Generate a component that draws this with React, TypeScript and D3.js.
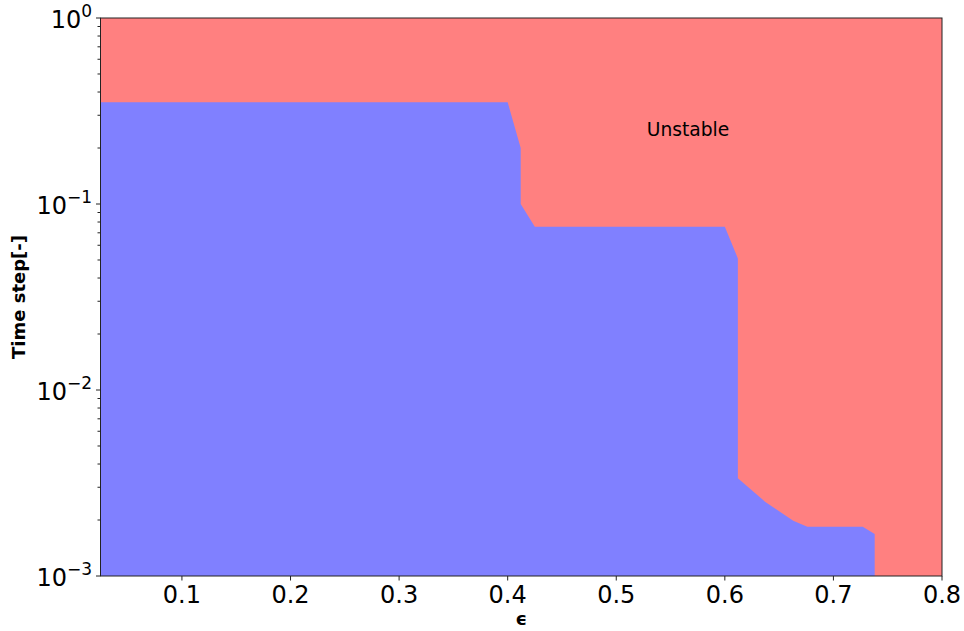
import React from "react";
import * as d3 from "d3";

// Stability boundary: largest stable time step for each epsilon (traced left to right)
const boundaryEps = [0.025, 0.4, 0.412, 0.412, 0.425, 0.6, 0.612, 0.612, 0.637, 0.663, 0.676, 0.727, 0.738, 0.738];
const boundaryDt = [0.352, 0.352, 0.2, 0.1, 0.0755, 0.0755, 0.051, 0.00335, 0.00251, 0.00198, 0.00184, 0.00184, 0.00168, 0.001];

const xTicks = [0.1, 0.2, 0.3, 0.4, 0.5, 0.6, 0.7, 0.8];
const yMajorExps = [0, -1, -2, -3];

const W = 964;
const H = 631;
const M = { left: 100.5, right: 942, top: 18, bottom: 576 };
const FONT = "DejaVu Sans, sans-serif";

export default function App() {
  const x = d3.scaleLinear().domain([0.025, 0.8]).range([M.left, M.right]);
  const y = d3.scaleLog().domain([0.001, 1]).range([M.bottom, M.top]);

  const pts: [number, number][] = boundaryEps.map((e, i) => [e, boundaryDt[i]]);
  pts.push([0.025, 0.001]);
  const area = d3
    .line<[number, number]>()
    .x((d) => x(d[0]))
    .y((d) => y(d[1]))
    .curve(d3.curveLinearClosed)(pts) as string;

  const minors: number[] = [];
  for (let e = -3; e < 0; e++) {
    for (let k = 2; k <= 9; k++) minors.push(k * Math.pow(10, e));
  }

  return (
    <svg width={W} height={H} style={{ position: "absolute", left: 0, top: 0 }}>
      <rect x={0} y={0} width={W} height={H} fill="#fff" />
      <rect x={M.left} y={M.top} width={M.right - M.left} height={M.bottom - M.top} fill="#ff8080" />
      <path d={area} fill="#8080ff" />
      <text x={688} y={136} fontFamily={FONT} fontSize={18.7} textAnchor="middle" fill="#000">
        Unstable
      </text>
      <rect
        x={M.left}
        y={M.top}
        width={M.right - M.left}
        height={M.bottom - M.top}
        fill="none"
        stroke="#222"
        strokeWidth={1}
      />
      {xTicks.map((t) => (
        <g key={t}>
          <line x1={x(t)} x2={x(t)} y1={M.bottom} y2={M.bottom + 4.5} stroke="#222" />
          <text x={x(t)} y={603} fontFamily={FONT} fontSize={24} textAnchor="middle" fill="#000">
            {t.toFixed(1)}
          </text>
        </g>
      ))}
      {minors.map((v) => (
        <line key={v} x1={M.left - 3} x2={M.left} y1={y(v)} y2={y(v)} stroke="#222" />
      ))}
      {yMajorExps.map((p) => (
        <g key={p}>
          <line x1={M.left - 4.5} x2={M.left} y1={y(Math.pow(10, p))} y2={y(Math.pow(10, p))} stroke="#222" />
          <text x={92} y={y(Math.pow(10, p)) + 10} fontFamily={FONT} fontSize={24} textAnchor="end" fill="#000">
            10
            <tspan fontSize={17} dy={-11}>
              {p === 0 ? "0" : "\u2212" + Math.abs(p)}
            </tspan>
          </text>
        </g>
      ))}
      <text
        transform={`translate(25,${(M.top + M.bottom) / 2}) rotate(-90)`}
        fontFamily={FONT}
        fontSize={18}
        fontWeight="bold"
        textAnchor="middle"
        fill="#000"
      >
        Time step[-]
      </text>
      <text x={(M.left + M.right) / 2} y={625} fontFamily={FONT} fontSize={18} fontWeight="bold" textAnchor="middle" fill="#000">
        ϵ
      </text>
    </svg>
  );
}
